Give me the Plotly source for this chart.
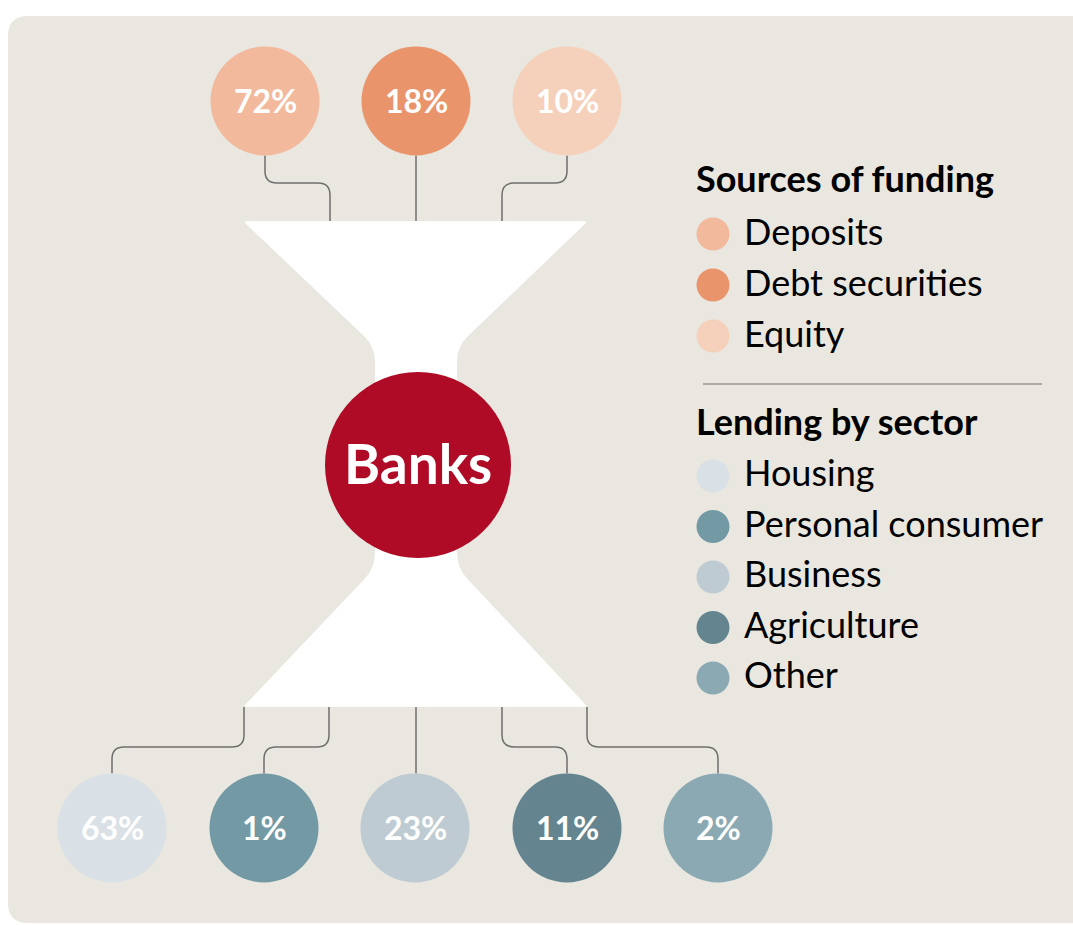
import plotly.graph_objects as go

# Funding sources (top row) and lending sectors (bottom row)
funding_labels = ["Deposits", "Debt securities", "Equity"]
funding_values = [72, 18, 10]
funding_colors = ["#F2B99C", "#E9946B", "#F5D0BB"]

lending_labels = ["Housing", "Personal consumer", "Business", "Agriculture", "Other"]
lending_values = [63, 1, 23, 11, 2]
lending_colors = ["#DAE1E6", "#7299A4", "#BECBD2", "#64858F", "#8AA9B3"]

centre_label = "Banks"
legend_titles = ["Sources of funding", "Lending by sector"]

W, H = 1073, 925
FONT = "Lato"
PANEL = "#E9E7DF"
LINE = "#6F6F6F"
RED = "#AF0B27"

fig = go.Figure()
shapes = []
annotations = []


def circle(cx, cy, r, color):
    return dict(type="circle", xref="x", yref="y", x0=cx - r, x1=cx + r,
                y0=cy - r, y1=cy + r, fillcolor=color, line=dict(width=0),
                layer="above")


def rounded_path(points, r=12):
    """Polyline through points with rounded elbows."""
    d = f"M {points[0][0]},{points[0][1]}"
    for i in range(1, len(points) - 1):
        (x0, y0), (x1, y1), (x2, y2) = points[i - 1], points[i], points[i + 1]
        def toward(ax, ay, bx, by, dist):
            L = ((bx - ax) ** 2 + (by - ay) ** 2) ** 0.5
            return ax + (bx - ax) * dist / L, ay + (by - ay) * dist / L
        sx, sy = toward(x1, y1, x0, y0, r)
        ex, ey = toward(x1, y1, x2, y2, r)
        d += f" L {sx:.1f},{sy:.1f} Q {x1},{y1} {ex:.1f},{ey:.1f}"
    d += f" L {points[-1][0]},{points[-1][1]}"
    return d


# background panel
shapes.append(dict(type="path", xref="x", yref="y", layer="below",
                   path="M 8,36 Q 8,16 28,16 L 1100,16 L 1100,923 L 28,923 Q 8,923 8,903 Z",
                   fillcolor=PANEL, line=dict(width=0)))

# hourglass funnel
top_y, bot_y = 221, 707
left_x, right_x = 243, 588
neck_l, neck_r = 375, 457
neck_top, neck_bot = 347, 568
funnel = (
    f"M 248,{top_y} L 583,{top_y} Q {right_x},{top_y} 585,{top_y + 3} "
    f"L 467.5,336.5 Q {neck_r},{neck_top} {neck_r},{neck_top + 15} "
    f"L {neck_r},{neck_bot - 15} Q {neck_r},{neck_bot} 467.5,579 "
    f"L 585,{bot_y - 3} Q {right_x},{bot_y} 583,{bot_y} "
    f"L 248,{bot_y} Q {left_x},{bot_y} 246,{bot_y - 3} "
    f"L 364.5,579 Q {neck_l},{neck_bot} {neck_l},{neck_bot - 15} "
    f"L {neck_l},{neck_top + 15} Q {neck_l},{neck_top} 364.5,336.5 "
    f"L 246,{top_y + 3} Q {left_x},{top_y} 248,{top_y} Z"
)
shapes.append(dict(type="path", xref="x", yref="y", path=funnel,
                   fillcolor="white", line=dict(width=0), layer="above"))

R = 54.5
top_cy, bot_cy = 101, 828
top_cx = [265, 416, 567]
bot_cx = [112, 264, 415, 567, 718]

# connectors from funding circles to funnel mouth
top_entry = [330, 416, 502]
for cx, ex in zip(top_cx, top_entry):
    if cx == ex:
        pts = [(cx, top_cy + R), (cx, top_y)]
    else:
        pts = [(cx, top_cy + R), (cx, 183), (ex, 183), (ex, top_y)]
    shapes.append(dict(type="path", xref="x", yref="y", path=rounded_path(pts),
                       line=dict(color=LINE, width=1.5), layer="above"))

# connectors from funnel base to lending circles
bot_exit = [244, 329, 416, 502, 587]
for cx, ex in zip(bot_cx, bot_exit):
    if abs(cx - ex) < 2:
        pts = [(ex, bot_y), (ex, bot_cy - R)]
    else:
        pts = [(ex, bot_y), (ex, 747), (cx, 747), (cx, bot_cy - R)]
    shapes.append(dict(type="path", xref="x", yref="y", path=rounded_path(pts),
                       line=dict(color=LINE, width=1.5), layer="above"))

# value circles
for cx, v, c in zip(top_cx, funding_values, funding_colors):
    shapes.append(circle(cx, top_cy, R, c))
    annotations.append(dict(x=cx, y=top_cy - 1, text=f"<b>{v}%</b>", showarrow=False,
                            font=dict(family=FONT, size=32, color="white")))
for cx, v, c in zip(bot_cx, lending_values, lending_colors):
    shapes.append(circle(cx, bot_cy, R, c))
    annotations.append(dict(x=cx, y=bot_cy - 1, text=f"<b>{v}%</b>", showarrow=False,
                            font=dict(family=FONT, size=32, color="white")))

# centre circle
shapes.append(circle(418, 465, 93, RED))
annotations.append(dict(x=418, y=463, text=f"<b>{centre_label}</b>", showarrow=False,
                        font=dict(family=FONT, size=55, color="white")))

# legend
LX, TX = 713, 742
annotations.append(dict(x=694, y=178, text=f"<b>{legend_titles[0]}</b>", showarrow=False,
                        xanchor="left", font=dict(family=FONT, size=36, color="black")))
for i, (lab, c) in enumerate(zip(funding_labels, funding_colors)):
    y = 231 + 51 * i
    shapes.append(circle(LX, y + 3, 16.5, c))
    annotations.append(dict(x=TX, y=y, text=lab, showarrow=False, xanchor="left",
                            font=dict(family=FONT, size=36, color="black")))

shapes.append(dict(type="line", xref="x", yref="y", x0=703, x1=1042, y0=384, y1=384,
                   line=dict(color=LINE, width=1.2), layer="above"))

annotations.append(dict(x=694, y=421, text=f"<b>{legend_titles[1]}</b>", showarrow=False,
                        xanchor="left", font=dict(family=FONT, size=36, color="black")))
for i, (lab, c) in enumerate(zip(lending_labels, lending_colors)):
    y = 472 + 50.5 * i
    shapes.append(circle(LX, y + 4, 16.5, c))
    annotations.append(dict(x=TX, y=y, text=lab, showarrow=False, xanchor="left",
                            font=dict(family=FONT, size=36, color="black")))

fig.update_layout(
    width=W, height=H, margin=dict(l=0, r=0, t=0, b=0),
    paper_bgcolor="white", plot_bgcolor="white",
    xaxis=dict(range=[0, W], visible=False, fixedrange=True),
    yaxis=dict(range=[H, 0], visible=False, fixedrange=True),
    shapes=shapes, annotations=annotations, showlegend=False,
)

fig.write_html("out.html")
